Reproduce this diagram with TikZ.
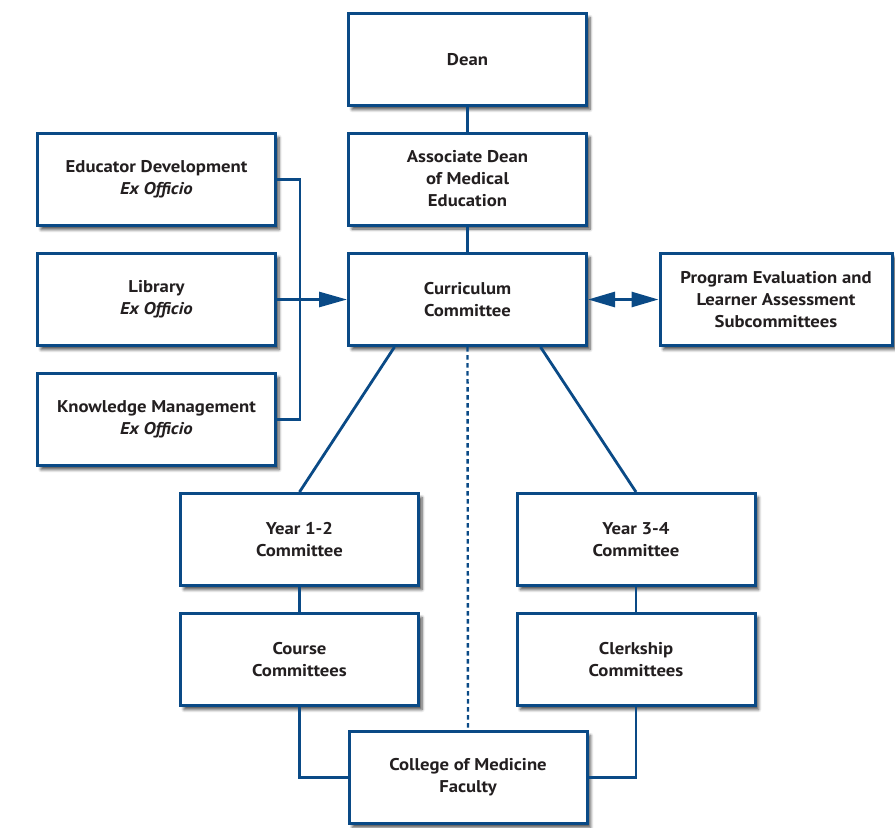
\documentclass[tikz,border=0pt]{standalone}
\usepackage{fontspec}
\setmainfont{PT Sans}[FakeStretch=1.1]
\usetikzlibrary{arrows.meta,shadows.blur,calc}
\definecolor{orgblue}{HTML}{0A4A86}
\definecolor{txt}{HTML}{231F20}
\tikzset{
  box/.style={draw=orgblue, line width=3pt, fill=white, minimum width=238pt, minimum height=92pt,
    inner sep=0pt, align=center, text=txt, font=\fontsize{17}{22}\selectfont\bfseries,
    blur shadow={shadow xshift=3.5pt, shadow yshift=-4pt, shadow blur steps=6, shadow blur radius=3pt, shadow opacity=70}},
  conn/.style={draw=orgblue, line width=2.8pt},
  dots/.style={draw=orgblue, line width=2.4pt, dash pattern=on 4.5pt off 3.5pt},
  tip/.style={-{Triangle[length=28pt,width=15pt]}},
  dtip/.style={{Triangle[length=27pt,width=15pt]}-{Triangle[length=27pt,width=15pt]}},
}
\begin{document}
\begin{tikzpicture}[x=1pt,y=-1pt]
\useasboundingbox (0,0) rectangle (895,828);
\node[box] (dean)   at (467.5,59.5)  {Dean};
\node[box] (assoc)  at (467.5,179)   {Associate Dean\\of Medical\\Education};
\node[box] (curr)   at (467.5,299.5) {Curriculum\\Committee};
\node[box] (edu)    at (156.5,179.5) {Educator Development\\\itshape Ex Officio};
\node[box] (lib)    at (156.5,299.5) {Library\\\itshape Ex Officio};
\node[box] (know)   at (156.5,419.5) {Knowledge Management\\\itshape Ex Officio};
\node[box, minimum width=232pt] (prog) at (776,299.5) {Program Evaluation and\\Learner Assessment\\Subcommittees};
\node[box] (y12)    at (299.5,539.5) {Year 1-2\\Committee};
\node[box] (course) at (299.5,659.5) {Course\\Committees};
\node[box] (y34)    at (636,539.5)   {Year 3-4\\Committee};
\node[box] (clerk)  at (636,659.5)   {Clerkship\\Committees};
\node[box] (fac)    at (468,777.5)   {College of Medicine\\Faculty};
\coordinate (brx) at (300,0);
% connectors
\draw[conn] (dean) -- (assoc);
\draw[conn] (assoc) -- (curr);
\draw[conn] (edu.east) -| (brx |- know.east) -- (know.east);
\draw[conn, tip] (lib.east) -- (curr.west);
\draw[conn, dtip] (curr.east) -- (prog.west);
\draw[conn] ([xshift=-73pt]curr.south) -- (y12.north);
\draw[conn] ([xshift=73pt]curr.south) -- (y34.north);
\draw[dots] (curr.south) -- (fac.north);
\draw[conn] (y12) -- (course);
\draw[conn] (y34) -- (clerk);
\draw[conn] (course.south) |- (fac.west);
\draw[conn] (clerk.south) |- (fac.east);
\end{tikzpicture}
\end{document}
